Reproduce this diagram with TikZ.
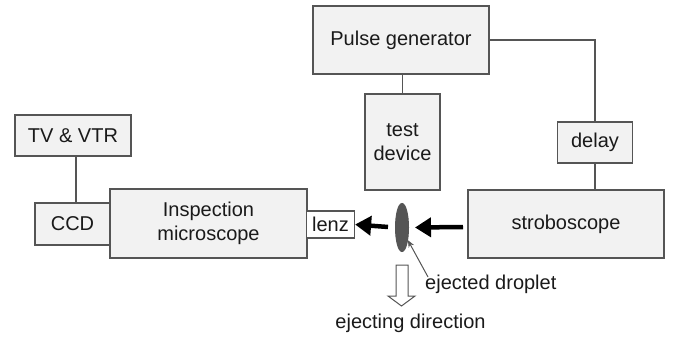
\documentclass[tikz,border=0pt]{standalone}
\usepackage{fontspec}
\setmainfont{Liberation Sans}
\usetikzlibrary{arrows.meta,shapes.geometric}
\definecolor{boxfill}{HTML}{F2F2F2}
\definecolor{linegray}{HTML}{555555}
\definecolor{txt}{HTML}{1A1A1A}
\begin{document}
\begin{tikzpicture}[x=1pt,y=-1pt,
  box/.style={draw=linegray,fill=boxfill,line width=1.2pt,inner sep=0pt,align=center,
    text=txt,font=\fontsize{20}{23.5}\selectfont},
  conn/.style={draw=linegray,line width=1.2pt},
  thick arrow/.style={line width=4.5pt,-{Triangle[length=16pt,width=19pt]}}]
\useasboundingbox (0,0) rectangle (679,337);
\node[box,minimum width=176pt,minimum height=68pt] (pg) at (401,40) {Pulse generator};
\node[box,minimum width=75pt,minimum height=96pt] (td) at (402.5,142) {test\\device};
\node[box,minimum width=75pt,minimum height=41pt] (delay) at (595,142.5) {delay};
\node[box,minimum width=196pt,minimum height=68pt] (strobe) at (566,224) {stroboscope};
\node[box,minimum width=116pt,minimum height=41pt] (tv) at (73,135.5) {TV \& VTR};
\node[box,minimum width=75pt,minimum height=42pt] (ccd) at (72.5,224) {CCD};
\node[box,minimum width=197pt,minimum height=69pt] (mic) at (208.5,223.5) {Inspection\\microscope};
\node[box,fill=white,minimum width=48pt,minimum height=27pt] (lenz) at (330.5,224.5) {lenz};
\node[ellipse,draw=linegray,fill=linegray,line width=1pt,minimum width=13pt,minimum height=48pt,inner sep=0pt] (drop) at (402,227.5) {};

\draw[conn] (td.north) -- (td.north |- pg.south);
\draw[conn] (pg.east) -| (delay.north);
\draw[conn] (delay.south) -- (delay.south |- strobe.north);
\draw[conn] (tv.south) ++(3,0) coordinate (tvs) -- (tvs |- ccd.north);

\coordinate (la1) at (388,227);
\coordinate (la2) at (463,227);
\draw[thick arrow] (la1) -- (lenz.east);
\draw[thick arrow] (la2) -- ([xshift=6pt]drop.east);

% open down arrow
\draw[linegray,line width=1pt,fill=white] (396,265) -- (408,265) -- (408,296) -- (415,296) -- (401.5,306) -- (388,296) -- (396,296) -- cycle;

\node[anchor=west,inner sep=0pt,text=txt,font=\fontsize{20}{23.5}\selectfont] (lbl) at (425,284) {ejected droplet};
\coordinate (ls) at (428,277);
\draw[linegray,line width=1pt,-{Stealth[length=7pt,width=6pt]}] (ls) -- (drop.-65);
\node[inner sep=0pt,text=txt,font=\fontsize{20}{23.5}\selectfont] (dir) at (410.5,323) {ejecting direction};
\end{tikzpicture}
\end{document}
